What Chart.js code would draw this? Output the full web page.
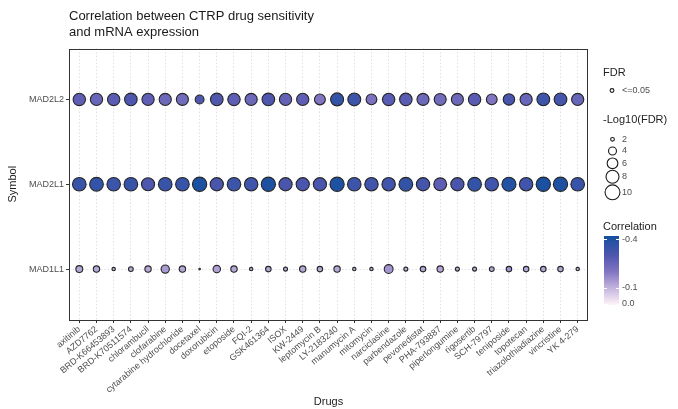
<!DOCTYPE html>
<html>
<head>
<meta charset="utf-8">
<script src="https://cdn.jsdelivr.net/npm/chart.js@4.4.1/dist/chart.umd.min.js"></script>
<style>
  html, body { margin: 0; padding: 0; background: #fff; }
</style>
</head>
<body>
<canvas id="dotplot" width="678" height="409"></canvas>
<script>
// drugs along the x axis, genes bottom -> top
const drugs = ["axitinib", "AZD7762", "BRD-K66453893", "BRD-K70511574", "chlorambucil",
  "clofarabine", "cytarabine hydrochloride", "docetaxel", "doxorubicin", "etoposide",
  "FQI-2", "GSK461364", "ISOX", "KW-2449", "leptomycin B", "LY-2183240", "manumycin A",
  "mitomycin", "narciclasine", "parbendazole", "pevonedistat", "PHA-793887",
  "piperlongumine", "rigosertib", "SCH-79797", "teniposide", "topotecan",
  "triazolothiadiazine", "vincristine", "YK 4-279"];
const genes = ["MAD1L1", "MAD2L1", "MAD2L2"];

// -log10(FDR) per drug
const fdrMAD2L2 = [7.4, 7.3, 7.4, 7.6, 7.3, 7.2, 7.1, 4.6, 7.6, 7.4, 7.2, 7.6, 7.3, 7.3, 6.1,
  8.0, 7.9, 6.0, 7.4, 7.5, 7.1, 7.0, 7.1, 7.4, 6.0, 6.6, 7.2, 7.8, 7.7, 7.2];
const fdrMAD2L1 = [8.6, 8.7, 8.5, 8.6, 8.1, 8.6, 8.6, 9.3, 8.2, 8.5, 8.4, 9.2, 8.2, 8.2, 8.2,
  9.2, 8.5, 8.4, 8.4, 8.7, 8.3, 7.8, 8.2, 8.7, 8.4, 9.1, 8.4, 9.3, 9.2, 8.6];
const fdrMAD1L1 = [3.4, 3.1, 1.9, 2.4, 3.1, 4.2, 3.1, 1.4, 3.7, 3.1, 1.9, 2.7, 2.1, 3.1, 2.7,
  3.1, 1.9, 1.9, 4.6, 2.1, 2.7, 3.1, 2.1, 2.1, 2.4, 2.7, 2.7, 2.7, 2.7, 1.9];

// correlation per drug
const corMAD2L2 = [-0.27, -0.25, -0.28, -0.30, -0.27, -0.24, -0.23, -0.30, -0.30, -0.27, -0.24,
  -0.30, -0.26, -0.27, -0.20, -0.36, -0.34, -0.21, -0.28, -0.28, -0.24, -0.23, -0.24, -0.28,
  -0.20, -0.31, -0.25, -0.34, -0.32, -0.25];
const corMAD2L1 = [-0.35, -0.36, -0.34, -0.35, -0.30, -0.35, -0.35, -0.41, -0.31, -0.34, -0.33,
  -0.40, -0.31, -0.31, -0.31, -0.40, -0.34, -0.33, -0.33, -0.36, -0.32, -0.27, -0.31, -0.36,
  -0.33, -0.39, -0.33, -0.41, -0.40, -0.35];
const corMAD1L1 = [-0.12, -0.12, -0.11, -0.12, -0.12, -0.14, -0.12, -0.13, -0.13, -0.12, -0.11,
  -0.12, -0.11, -0.12, -0.12, -0.12, -0.11, -0.11, -0.15, -0.11, -0.12, -0.12, -0.11, -0.11,
  -0.12, -0.15, -0.12, -0.12, -0.12, -0.11];

const sizeBreaks = [2, 4, 6, 8, 10];
const colorBreaks = [-0.4, -0.1, 0.0];

// colour ramp for correlation
const ramp = [
  [-0.42, [21, 80, 160]],
  [-0.30, [79, 86, 174]],
  [-0.20, [129, 117, 194]],
  [-0.10, [194, 179, 221]],
  [0.00, [251, 241, 246]]
];
function corColor(c) {
  if (c <= ramp[0][0]) return "rgb(" + ramp[0][1].join(",") + ")";
  for (let i = 1; i < ramp.length; i++) {
    if (c <= ramp[i][0]) {
      const a = ramp[i - 1], b = ramp[i];
      const t = (c - a[0]) / (b[0] - a[0]);
      const rgb = a[1].map((v, k) => Math.round(v + (b[1][k] - v) * t));
      return "rgb(" + rgb.join(",") + ")";
    }
  }
  return "rgb(" + ramp[ramp.length - 1][1].join(",") + ")";
}

// ggplot-ish area scaling of -log10(FDR)
function bubbleRadius(v) {
  return Math.max(0.8, Math.sqrt(7.3 * (v - 1.2)) - 0.55);
}

function rows(fdr, cor, y) {
  return drugs.map((d, i) => ({ x: i, y: y, v: fdr[i], c: cor[i] }));
}

const FONT = "'Liberation Sans', Arial, sans-serif";
Chart.defaults.font.family = FONT;

// legend + panel border
const sidePlugin = {
  id: "side",
  afterDatasetsDraw(chart) {
    const ctx = chart.ctx;
    const a = chart.chartArea;
    ctx.save();
    ctx.strokeStyle = "#333333";
    ctx.lineWidth = 1;
    ctx.strokeRect(Math.round(a.left) + 0.5, Math.round(a.top) + 0.5,
      Math.round(a.right - a.left) - 1, Math.round(a.bottom - a.top) - 1);
    ctx.restore();
  },
  afterDraw(chart) {
    const ctx = chart.ctx;
    ctx.save();
    ctx.textBaseline = "middle";
    ctx.textAlign = "left";

    ctx.fillStyle = "#222";
    ctx.font = "11px " + FONT;
    ctx.fillText("FDR", 603, 73);
    ctx.strokeStyle = "#1a1a1a";
    ctx.lineWidth = 1.1;
    ctx.beginPath(); ctx.arc(612, 90.5, 1.9, 0, Math.PI * 2); ctx.stroke();
    ctx.fillStyle = "#4d4d4d";
    ctx.font = "9px " + FONT;
    ctx.fillText("<=0.05", 622, 90.5);

    ctx.fillStyle = "#222";
    ctx.font = "11px " + FONT;
    ctx.fillText("-Log10(FDR)", 603, 120);
    const ys = [139.3, 151, 163.3, 176.7, 192.3];
    sizeBreaks.forEach((s, i) => {
      ctx.beginPath(); ctx.arc(612.5, ys[i], bubbleRadius(s), 0, Math.PI * 2); ctx.stroke();
      ctx.fillStyle = "#4d4d4d";
      ctx.font = "9px " + FONT;
      ctx.fillText(String(s), 622, ys[i]);
    });

    ctx.fillStyle = "#222";
    ctx.font = "11px " + FONT;
    ctx.fillText("Correlation", 603, 227);
    // colour bar: -0.4 at y 239.3, 0.0 at y 304
    const barTop = 236, barBot = 305, x0 = 604, w = 15;
    const yOf = c => 304 + c * (304 - 239.3) / 0.4;
    for (let y = barTop; y < barBot; y++) {
      const c = -(304 - (y + 0.5)) * 0.4 / (304 - 239.3);
      ctx.fillStyle = corColor(c);
      ctx.fillRect(x0, y, w, 1);
    }
    ctx.strokeStyle = "#ffffff";
    ctx.lineWidth = 1;
    colorBreaks.forEach(c => {
      const y = Math.round(yOf(c)) + 0.5;
      ctx.beginPath();
      ctx.moveTo(x0, y); ctx.lineTo(x0 + 3, y);
      ctx.moveTo(x0 + w - 3, y); ctx.lineTo(x0 + w, y);
      ctx.stroke();
      ctx.fillStyle = "#4d4d4d";
      ctx.font = "9px " + FONT;
      ctx.fillText(c.toFixed(1), 622, yOf(c));
    });
    ctx.restore();
  }
};

const pointStyle = {
  borderColor: "#262626",
  borderWidth: 1.1,
  backgroundColor: ctx => corColor(ctx.raw.c),
  radius: ctx => bubbleRadius(ctx.raw.v),
  hoverRadius: 0
};

new Chart(document.getElementById("dotplot"), {
  type: "bubble",
  data: {
    datasets: [
      Object.assign({ label: "MAD2L2", data: rows(fdrMAD2L2, corMAD2L2, 2) }, pointStyle),
      Object.assign({ label: "MAD2L1", data: rows(fdrMAD2L1, corMAD2L1, 1) }, pointStyle),
      Object.assign({ label: "MAD1L1", data: rows(fdrMAD1L1, corMAD1L1, 0) }, pointStyle)
    ]
  },
  options: {
    responsive: false,
    animation: false,
    layout: { padding: { left: 0, right: 90, top: 0, bottom: 0 } },
    plugins: {
      legend: { display: false },
      tooltip: { enabled: false },
      title: {
        display: true,
        text: ["Correlation between CTRP drug sensitivity", "and mRNA expression"],
        align: "start",
        fullSize: false,
        color: "#1a1a1a",
        font: { size: 13, weight: "normal", lineHeight: 1.25 },
        padding: { top: 8, bottom: 8 }
      }
    },
    scales: {
      x: {
        type: "linear",
        min: -0.6,
        max: drugs.length - 0.4,
        afterBuildTicks: s => { s.ticks = drugs.map((d, i) => ({ value: i })); },
        afterFit: s => { s.height = 89; },
        ticks: {
          autoSkip: false,
          minRotation: 40,
          maxRotation: 40,
          padding: 1,
          color: "#4d4d4d",
          font: { size: 9 },
          callback: v => drugs[v]
        },
        grid: {
          color: "#d9d9d9",
          lineWidth: 0.8,
          tickColor: "#333333",
          tickLength: 3,
          tickWidth: 1
        },
        border: { display: false, dash: [1.5, 2] },
        title: {
          display: true,
          text: "Drugs",
          color: "#222",
          font: { size: 11 },
          padding: 0
        }
      },
      y: {
        type: "linear",
        min: -0.6,
        max: genes.length - 0.4,
        afterBuildTicks: s => { s.ticks = genes.map((g, i) => ({ value: i })); },
        afterFit: s => { s.width = 69; },
        ticks: {
          padding: 2,
          color: "#4d4d4d",
          font: { size: 9 },
          callback: v => genes[v]
        },
        grid: {
          color: "#d9d9d9",
          lineWidth: 0.8,
          tickColor: "#333333",
          tickLength: 3,
          tickWidth: 1
        },
        border: { display: false, dash: [1.5, 2] },
        title: {
          display: true,
          text: "Symbol",
          color: "#222",
          font: { size: 11 },
          padding: { top: 6, bottom: 0 }
        }
      }
    }
  },
  plugins: [sidePlugin]
});
</script>
</body>
</html>
